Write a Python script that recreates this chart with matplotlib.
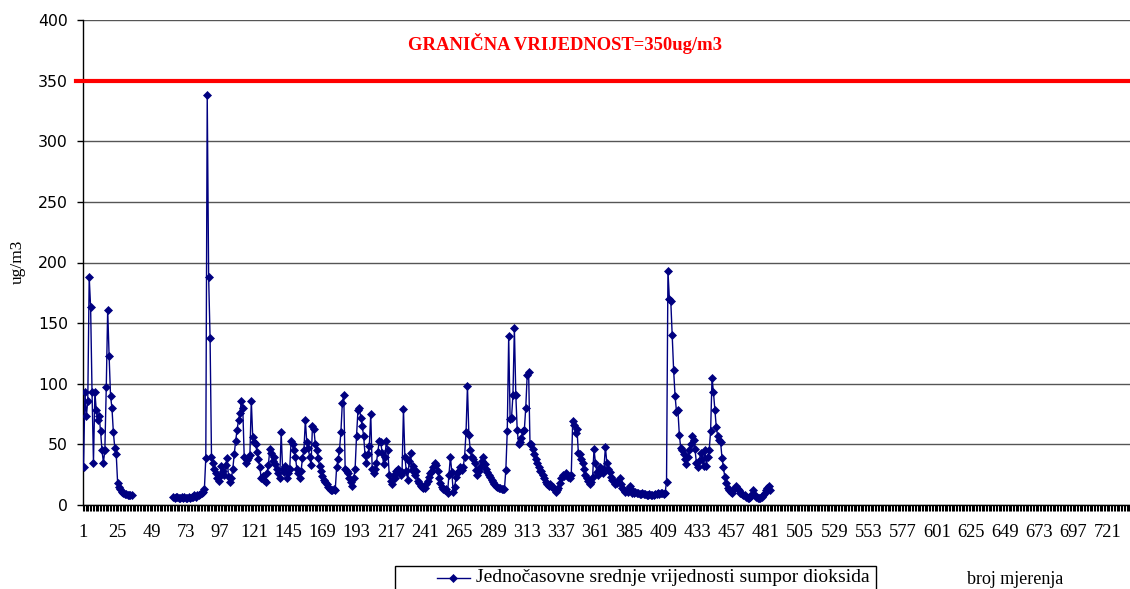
import numpy as np
import matplotlib
matplotlib.use('Agg')
import matplotlib.pyplot as plt
from matplotlib.lines import Line2D
from matplotlib.patches import Rectangle

# hourly SO2 means (ug/m3), measurements 1-35
so2_first = [31, 93, 73, 86, 188, 163, 93, 35, 93, 78, 70, 73, 61, 45, 35, 45, 97, 161,
             123, 90, 80, 60, 47, 42, 18, 15, 13, 11, 10, 9, 9, 8, 8, 8, 8]
# measurements 36-63 missing
n_missing = 28
# measurements 64-209
so2_second = [7, 6, 7, 7, 6, 6, 7, 6, 7, 6, 6, 7, 6, 7, 7, 8, 7, 8, 8, 9, 10, 11, 13,
              39, 338, 188, 138, 40,
              35, 30, 26, 22, 20, 24, 32, 28, 25, 33, 39, 23, 19, 22, 30, 42, 53, 62, 70, 76,
              86, 80, 40, 35, 37, 39, 41, 86,
              56, 52, 50, 44, 38, 31, 22, 24, 21, 19, 26, 33, 46, 43, 36, 40, 34, 30, 26, 22, 60,
              30, 27, 32, 22, 26, 30, 53, 50, 45, 40, 30, 26, 22, 28, 39, 45, 70,
              52, 47, 40, 33, 65, 63, 50, 45, 39, 32, 28, 24, 21, 19, 17, 15, 13, 12, 12, 13, 12,
              31, 38, 45, 60, 84, 91,
              30, 28, 26, 22, 19, 16, 22, 30, 57, 78, 80, 72, 65, 57, 41, 35, 42, 49, 75, 30,
              26, 30, 35, 44, 53]
# measurements 210-345
so2_third = [52, 43, 34, 40, 53, 45, 25, 20, 17, 25, 22, 28, 30, 27, 25, 27, 79,
             40, 28, 21, 36, 43, 29, 32, 25, 28, 20, 18, 16, 15, 14, 14,
             17, 20, 23, 26, 28, 31, 35, 33, 28, 22, 18, 15, 13, 12, 13, 10, 25, 40, 27, 11,
             15, 23, 26, 28, 31, 29, 31, 40, 60, 98,
             58, 45, 40, 38, 35, 29, 25, 28, 31, 36, 40, 34, 30, 27, 25, 23, 21, 19, 17, 16,
             15, 14, 14, 13, 13, 13,
             29, 61, 139, 71, 72, 91, 146, 91, 62, 50, 52, 55, 61, 62, 80, 107, 110,
             50, 50, 46, 42, 38, 35, 31, 28, 28, 25, 22, 19, 17, 16, 17, 16, 15, 13, 11, 12,
             14, 18, 22, 25, 24, 26, 25, 23, 22, 25, 69]
# measurements 346-484
so2_fourth = [66, 59, 63, 43, 42, 38, 35, 30, 25, 22, 20, 17, 19, 23, 46, 35, 27, 25, 31, 29,
              26, 30, 48, 35, 30, 27, 23, 21, 20, 17, 18, 20, 22, 17, 14, 12, 11, 12, 11,
              16, 13, 10, 10, 11, 10, 10, 9, 9, 10, 9, 9, 8, 8, 9, 8, 8, 8, 9, 9, 10, 9, 10,
              10, 9, 10, 19,
              193, 170, 168, 140, 111, 90, 77, 78, 58, 47, 45, 42, 38, 34, 40, 45, 50, 57, 54,
              46, 35, 31, 36, 43, 38, 32, 45, 32, 40, 45, 61, 105,
              93, 78, 64, 57, 54, 52, 39, 31, 23, 18, 14, 12, 11, 10, 12, 14, 16, 13, 12, 10,
              9, 8, 8, 7, 6, 6, 7, 9, 12, 8, 7, 6, 6, 6, 7, 8, 10, 12, 14, 16, 12]

n_categories = 744
x_labels = list(range(1, 722, 24))
y_ticks = list(range(0, 401, 50))
limit_value = 350

values = np.array(so2_first + [np.nan] * n_missing + so2_second + so2_third + so2_fourth,
                  dtype=float)
positions = np.arange(1, len(values) + 1)

W, H = 1130, 589
fig = plt.figure(figsize=(W / 100, H / 100), dpi=100)
ax_left, ax_bottom, ax_top = 82.8, 505, 20
px_per_cat = 1.422
ax = fig.add_axes([ax_left / W, 1 - ax_bottom / H,
                   n_categories * px_per_cat / W, (ax_bottom - ax_top) / H])

NAVY = '#000080'
ax.plot(positions, values, color=NAVY, lw=1.0, marker='D', markersize=4.5,
        markerfacecolor=NAVY, markeredgecolor=NAVY, markeredgewidth=0.5, zorder=3)

ax.axhline(limit_value, xmin=-0.006, xmax=1, color='#ff0000', lw=3, clip_on=False, zorder=4)

ax.set_xlim(0.5, n_categories + 0.5)
ax.set_ylim(0, 400)
ax.set_yticks(y_ticks)
ax.yaxis.grid(True, color='#555555', lw=1.0)
ax.set_axisbelow(True)

ax.set_xticks(x_labels)
ax.set_xticklabels([str(v) for v in x_labels], fontfamily='Liberation Serif', fontsize=13.3)
ax.set_xticks(np.arange(0.5, n_categories + 1, 1), minor=True)
ax.tick_params(axis='x', which='major', length=0, pad=14)
ax.tick_params(axis='x', which='minor', length=4.5, width=0.75, color='black', direction='out')
ax.tick_params(axis='y', length=4.3, width=1.0, color='black', pad=6.5, labelsize=11.3)
for lab in ax.get_yticklabels():
    lab.set_fontfamily('DejaVu Sans')

for s in ['top', 'right']:
    ax.spines[s].set_visible(False)
ax.spines['left'].set_color('black')
ax.spines['bottom'].set_color('black')
ax.spines['left'].set_linewidth(1.0)
ax.spines['bottom'].set_linewidth(1.0)

fig.text(18 / W, 1 - 262 / H, 'ug/m3', rotation=90, ha='center', va='center',
         fontfamily='Liberation Serif', fontsize=12.5)
fig.text(565 / W, 1 - 43 / H, 'GRANIČNA VRIJEDNOST=350ug/m3', color='#ff0000',
         ha='center', va='center', fontfamily='Liberation Serif', fontweight='bold',
         fontsize=13.4)
fig.text(1015 / W, 1 - 580 / H, 'broj mjerenja', ha='center', va='center',
         fontfamily='Liberation Serif', fontsize=13)

# legend drawn by hand: box runs off the bottom edge like in the original
fig.patches.append(Rectangle((395 / W, 1 - 605 / H), (876 - 395) / W, (605 - 566) / H,
                             transform=fig.transFigure, facecolor='white',
                             edgecolor='black', lw=1.0))
ly = 1 - 578 / H
fig.lines.append(Line2D([437 / W, 470 / W], [ly, ly], transform=fig.transFigure,
                        color=NAVY, lw=1.0))
fig.lines.append(Line2D([453 / W], [ly], transform=fig.transFigure, color=NAVY,
                        marker='D', markersize=4.5, markeredgewidth=0.5))
fig.text(476 / W, ly, 'Jednočasovne srednje vrijednosti sumpor dioksida',
         ha='left', va='center', fontfamily='Liberation Serif', fontsize=14)

fig.savefig('out.png', dpi=100)
